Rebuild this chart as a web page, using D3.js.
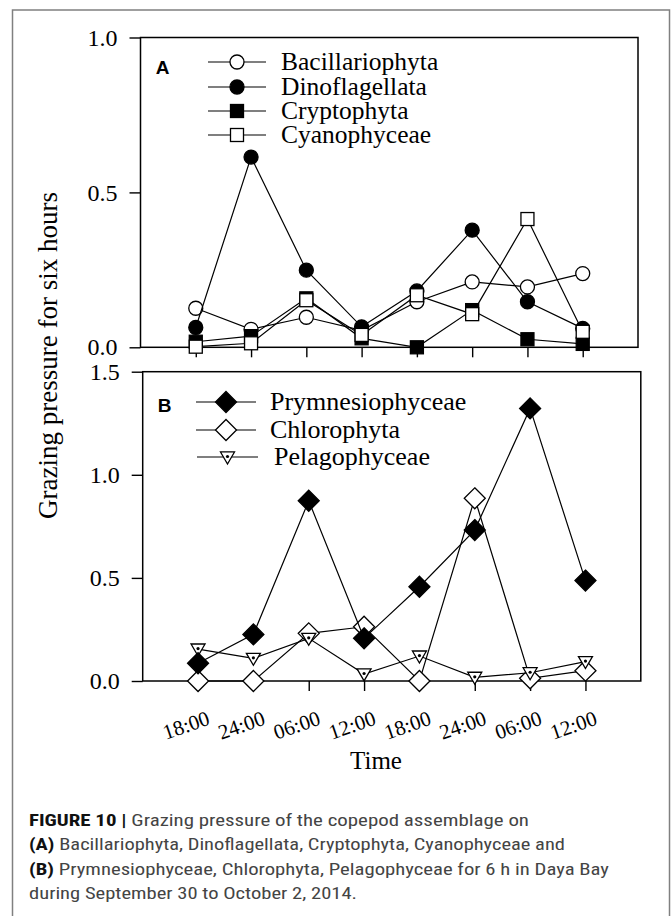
<!DOCTYPE html>
<html>
<head>
<meta charset="utf-8">
<script src="https://cdn.jsdelivr.net/npm/d3@7"></script>
<style>
  html, body { margin: 0; padding: 0; background: #fff; }
  svg { display: block; }
</style>
</head>
<body>
<svg id="chart" width="672" height="916"></svg>
<script>
// ---- data ----
const times = ["18:00", "24:00", "06:00", "12:00", "18:00", "24:00", "06:00", "12:00"];
const bacillariophyta  = [0.126, 0.058, 0.097, 0.055, 0.147, 0.211, 0.195, 0.238];
const dinoflagellata   = [0.064, 0.614, 0.249, 0.066, 0.182, 0.378, 0.147, 0.061];
const cryptophyta      = [0.018, 0.036, 0.158, 0.029, 0.000, 0.120, 0.026, 0.011];
const cyanophyceae     = [0.002, 0.013, 0.152, 0.040, 0.168, 0.107, 0.414, 0.050];
const prymnesiophyceae = [0.086, 0.226, 0.874, 0.207, 0.457, 0.732, 1.322, 0.487];
const chlorophyta      = [0.000, 0.000, 0.231, 0.263, 0.000, 0.886, 0.013, 0.050];
const pelagophyceae    = [0.155, 0.110, 0.207, 0.034, 0.121, 0.018, 0.040, 0.094];
const ticksA = [0, 0.5, 1.0];
const ticksB = [0, 0.5, 1.0, 1.5];
const captionLines = [
  [["FIGURE 10 | ", true], ["Grazing pressure of the copepod assemblage on", false]],
  [["(A) ", true], ["Bacillariophyta, Dinoflagellata, Cryptophyta, Cyanophyceae and", false]],
  [["(B) ", true], ["Prymnesiophyceae, Chlorophyta, Pelagophyceae for 6 h in Daya Bay", false]],
  [["during September 30 to October 2, 2014.", false]]
];

const svg = d3.select("#chart");
const SERIF = "'Liberation Serif', 'Times New Roman', serif";
const SANS = "'Liberation Sans', Arial, sans-serif";

// outer frame
svg.append("rect").attr("x", 12.5).attr("y", 10).attr("width", 657).attr("height", 930)
  .attr("fill", "none").attr("stroke", "#808080").attr("stroke-width", 1.5);

// marker drawing
function drawMarker(g, type, x, y) {
  if (type === "circleOpen" || type === "circleFilled") {
    g.append("circle").attr("cx", x).attr("cy", y).attr("r", 7)
      .attr("fill", type === "circleOpen" ? "#fff" : "#000").attr("stroke", "#000").attr("stroke-width", 1.3);
  } else if (type === "squareOpen" || type === "squareFilled") {
    g.append("rect").attr("x", x - 6.5).attr("y", y - 6.5).attr("width", 13).attr("height", 13)
      .attr("fill", type === "squareOpen" ? "#fff" : "#000").attr("stroke", "#000").attr("stroke-width", 1.3);
  } else if (type === "diamondOpen" || type === "diamondFilled") {
    const r = 10.5;
    g.append("path").attr("d", `M${x},${y - r}L${x + r},${y}L${x},${y + r}L${x - r},${y}Z`)
      .attr("fill", type === "diamondOpen" ? "#fff" : "#000").attr("stroke", "#000").attr("stroke-width", 1.3);
  } else if (type === "triDown") {
    const w = 7, h = 12;
    g.append("path").attr("d", `M${x - w},${y - h * 0.42}L${x + w},${y - h * 0.42}L${x},${y + h * 0.58}Z`)
      .attr("fill", "#fff").attr("stroke", "#000").attr("stroke-width", 1.3);
    g.append("circle").attr("cx", x).attr("cy", y - 0.5).attr("r", 1.6).attr("fill", "#000");
  }
}

function panel(cfg) {
  const x = d3.scaleLinear().domain([0, 9]).range([cfg.left, cfg.right]);
  const y = d3.scaleLinear().domain([0, cfg.ymax]).range([cfg.bottom, cfg.top]);
  const g = svg.append("g");

  // frame
  g.append("rect").attr("x", cfg.left).attr("y", cfg.top)
    .attr("width", cfg.right - cfg.left).attr("height", cfg.bottom - cfg.top)
    .attr("fill", "none").attr("stroke", "#000").attr("stroke-width", 1.5);

  // y axis
  const ya = g.append("g").attr("transform", `translate(${cfg.left},0)`)
    .call(d3.axisLeft(y).tickValues(cfg.yticks).tickFormat(d3.format(".1f")).tickSize(11).tickPadding(12));
  ya.select(".domain").remove();
  ya.selectAll("line").attr("stroke", "#000").attr("stroke-width", 1.4);
  ya.selectAll("text").attr("font-family", SERIF).attr("font-size", 24).attr("fill", "#000");

  // x axis
  const xa = g.append("g").attr("transform", `translate(0,${cfg.bottom})`)
    .call(d3.axisBottom(x).tickValues(d3.range(1, 9)).tickSize(10).tickFormat(""));
  xa.select(".domain").remove();
  xa.selectAll("line").attr("stroke", "#000").attr("stroke-width", 1.4);

  // series
  const line = d3.line().x((d, i) => x(i + 1)).y(d => y(d));
  cfg.series.forEach(s => {
    g.append("path").datum(s.values).attr("d", line)
      .attr("fill", "none").attr("stroke", "#000").attr("stroke-width", 1.2);
    s.values.forEach((v, i) => drawMarker(g, s.marker, x(i + 1), y(v)));
  });

  // panel letter
  g.append("text").attr("x", cfg.left + 22).attr("y", cfg.letterY).attr("dy", "0.36em")
    .attr("text-anchor", "middle").attr("font-family", SANS).attr("font-weight", "bold")
    .attr("font-size", 19).text(cfg.letter);

  // legend
  cfg.legend.forEach((s, i) => {
    const ry = cfg.legendRows[i];
    const lg = g.append("g");
    lg.append("line").attr("x1", s.lx[0]).attr("x2", s.lx[1]).attr("y1", ry).attr("y2", ry)
      .attr("stroke", "#000").attr("stroke-width", 1.2);
    drawMarker(lg, s.marker, (s.lx[0] + s.lx[1]) / 2, ry);
    lg.append("text").attr("x", s.tx).attr("y", ry).attr("dy", "0.3em")
      .attr("font-family", SERIF).attr("font-size", cfg.legendFont).attr("fill", "#000").text(s.name);
  });
  return { x, y, g };
}

const A = panel({
  left: 140.5, right: 638, top: 37.5, bottom: 347.3, ymax: 1.0, yticks: ticksA,
  letter: "A", letterY: 67, legendFont: 25.5,
  series: [
    { name: "Bacillariophyta", values: bacillariophyta, marker: "circleOpen" },
    { name: "Dinoflagellata", values: dinoflagellata, marker: "circleFilled" },
    { name: "Cryptophyta", values: cryptophyta, marker: "squareFilled" },
    { name: "Cyanophyceae", values: cyanophyceae, marker: "squareOpen" }
  ],
  legendRows: [62, 87, 111, 135],
  legend: [
    { name: "Bacillariophyta", marker: "circleOpen", lx: [208, 266], tx: 281 },
    { name: "Dinoflagellata", marker: "circleFilled", lx: [208, 266], tx: 281 },
    { name: "Cryptophyta", marker: "squareFilled", lx: [208, 266], tx: 281 },
    { name: "Cyanophyceae", marker: "squareOpen", lx: [208, 266], tx: 281 }
  ]
});

const B = panel({
  left: 142.7, right: 640.8, top: 371.7, bottom: 681, ymax: 1.5, yticks: ticksB,
  letter: "B", letterY: 405, legendFont: 26,
  series: [
    { name: "Chlorophyta", values: chlorophyta, marker: "diamondOpen" },
    { name: "Pelagophyceae", values: pelagophyceae, marker: "triDown" },
    { name: "Prymnesiophyceae", values: prymnesiophyceae, marker: "diamondFilled" }
  ],
  legendRows: [402, 430, 457],
  legend: [
    { name: "Prymnesiophyceae", marker: "diamondFilled", lx: [196, 256], tx: 270 },
    { name: "Chlorophyta", marker: "diamondOpen", lx: [196, 256], tx: 270 },
    { name: "Pelagophyceae", marker: "triDown", lx: [197, 258], tx: 274 }
  ]
});

// x tick labels (panel B)
svg.append("g").selectAll("text").data(times).join("text")
  .attr("transform", (d, i) => `translate(${B.x(i + 1) - 12},${725}) rotate(-19)`)
  .attr("text-anchor", "middle").attr("dy", "0.35em")
  .attr("font-family", SERIF).attr("font-size", 21).attr("fill", "#000")
  .text(d => d);

// axis titles
svg.append("text").attr("x", 376).attr("y", 769).attr("text-anchor", "middle")
  .attr("font-family", SERIF).attr("font-size", 25).attr("fill", "#000").text("Time");
svg.append("text").attr("transform", "translate(48,355.5) rotate(-90)").attr("text-anchor", "middle")
  .attr("dy", "0.35em").attr("font-family", SERIF).attr("font-size", 27).attr("fill", "#000")
  .text("Grazing pressure for six hours");

// caption
const capWidths = [500, 536, 580, 328];
const capBase = [826, 850, 875, 899];
captionLines.forEach((parts, i) => {
  const t = svg.append("text").attr("x", 29).attr("y", capBase[i])
    .attr("font-family", "'Liberation Sans Narrow', 'Roboto Condensed', Roboto, sans-serif")
    .attr("font-size", 17).attr("fill", "#444")
    .attr("textLength", capWidths[i]).attr("lengthAdjust", "spacingAndGlyphs");
  parts.forEach(([txt, bold]) => {
    t.append("tspan").attr("font-weight", bold ? "bold" : "normal")
      .attr("fill", bold ? "#111" : "#444").text(txt);
  });
});
</script>
</body>
</html>
